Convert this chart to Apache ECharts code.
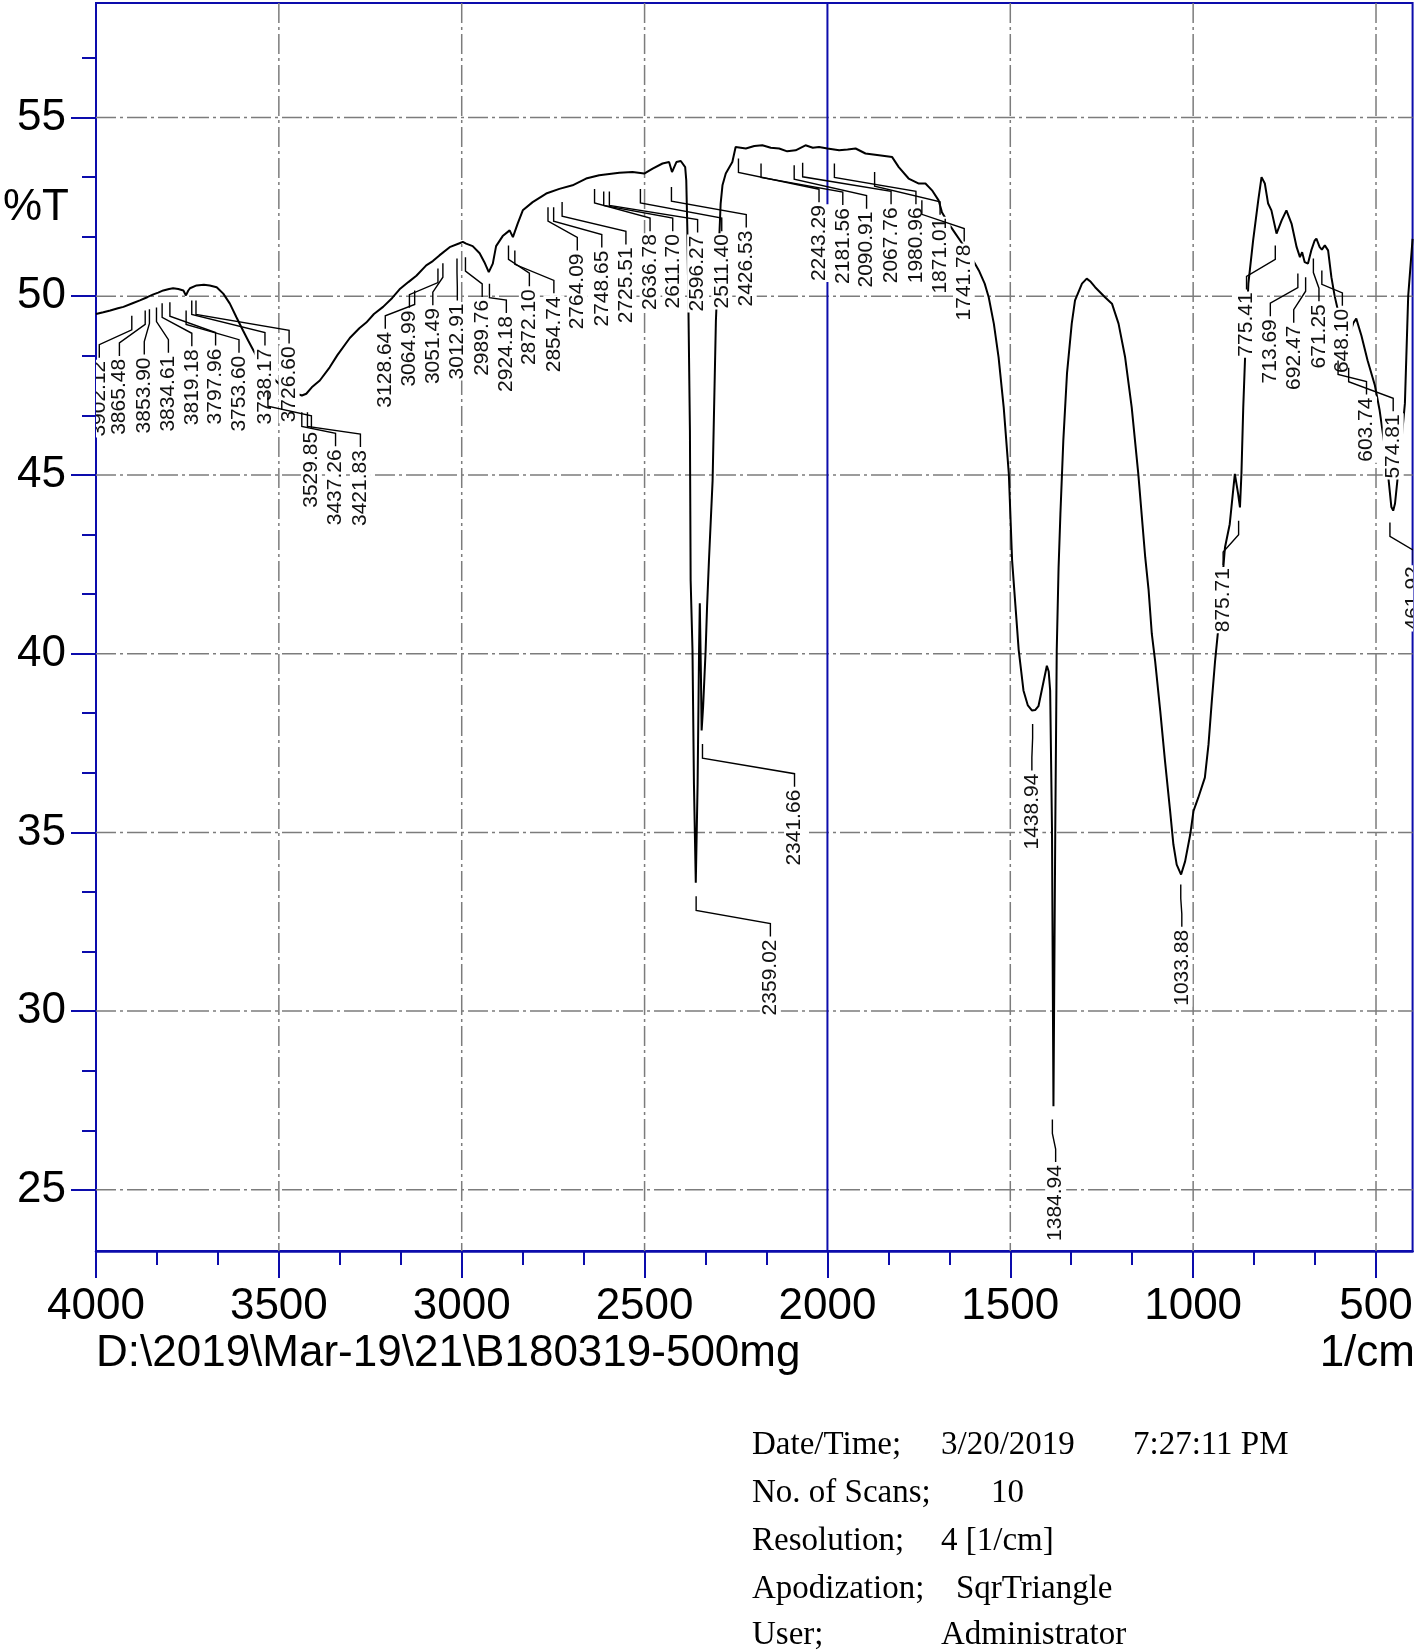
<!DOCTYPE html>
<html>
<head>
<meta charset="utf-8">
<script src="https://cdn.jsdelivr.net/npm/echarts@6/dist/echarts.min.js"></script>
<style>
html,body{margin:0;padding:0;background:#fff;}
#chart{width:1418px;height:1652px;}
</style>
</head>
<body>
<div id="chart"></div>
<script>
// ---------------- DATA ----------------
const wavenumber = [
4000,3980,3961,3940,3925,3900,3880,3860,3843,3830,
3816,3800,3789,3775,3761,3754,3748,3743,3725,3705,
3689,3670,3652,3634,3616,3598,3584,3560,3530,3500,
3470,3445,3437,3425,3410,3388,3361,3340,3306,3280,
3261,3240,3215,3190,3170,3145,3124,3097,3079,3061,
3033,3006,2997,2988,2970,2951,2938,2926,2915,2906,
2888,2869,2860,2847,2833,2806,2769,2733,2697,2660,
2624,2569,2533,2501,2478,2451,2433,2425,2413,2401,
2389,2386,2383,2380,2376,2374,2369,2365,2360,2355,
2351,2349,2346,2344,2340,2333,2329,2324,2314,2305,
2292,2287,2278,2260,2251,2223,2200,2178,2155,2132,
2110,2087,2060,2040,2023,2000,1968,1945,1923,1896,
1859,1823,1805,1778,1750,1732,1714,1696,1687,1670,
1650,1630,1610,1586,1570,1559,1545,1532,1518,1504,
1495,1486,1477,1464,1452,1441,1432,1423,1409,1400,
1395,1391,1386,1382,1377,1373,1368,1363,1355,1345,
1332,1323,1304,1291,1280,1268,1241,1222,1204,1186,
1168,1150,1131,1122,1113,1104,1090,1077,1063,1054,
1045,1033,1022,1008,999,986,968,958,949,940,
931,913,900,886,877,872,868,863,858,849,
836,822,813,804,795,786,772,758,745,731,
717,708,702,695,686,677,668,663,654,648,
640,631,622,613,604,590,575,562,554,540,
523,503,490,475,466,458,453,448,440,430,
421,412,400
];
const transmittance = [
49.50,49.55,49.60,49.66,49.70,49.80,49.88,49.97,50.05,50.10,
50.16,50.20,50.22,50.20,50.16,50.02,50.15,50.22,50.30,50.32,
50.30,50.25,50.07,49.79,49.41,49.04,48.76,48.30,47.85,47.55,
47.35,47.25,47.22,47.27,47.45,47.64,48.01,48.35,48.83,49.10,
49.26,49.50,49.70,49.95,50.19,50.40,50.57,50.86,50.98,51.14,
51.37,51.48,51.52,51.47,51.40,51.20,50.95,50.67,50.91,51.40,
51.68,51.84,51.65,52.03,52.40,52.63,52.87,53.00,53.10,53.29,
53.38,53.45,53.47,53.43,53.57,53.71,53.75,53.47,53.75,53.78,
53.61,53.24,51.84,49.60,46.24,42.04,40.10,36.35,33.59,36.35,
40.10,41.41,39.47,37.85,38.50,40.10,41.35,42.60,44.84,49.30,
52.59,53.10,53.43,53.75,54.17,54.13,54.20,54.22,54.15,54.13,
54.05,54.08,54.22,54.15,54.17,54.13,54.08,54.10,54.13,53.99,
53.94,53.89,53.61,53.29,53.15,53.15,52.96,52.68,52.35,52.05,
51.75,51.45,51.15,50.72,50.35,49.97,49.23,48.29,46.89,45.03,
42.60,41.35,40.10,38.97,38.55,38.41,38.42,38.53,39.22,39.66,
39.50,38.97,35.10,27.34,35.10,40.10,42.40,43.90,45.96,47.83,
49.23,49.88,50.35,50.49,50.40,50.25,49.97,49.79,49.23,48.29,
46.89,45.03,42.69,41.80,40.55,39.80,38.40,37.00,35.60,34.66,
34.10,33.82,34.19,34.94,35.60,35.97,36.53,37.46,38.67,39.80,
40.73,42.97,43.62,45.03,44.47,44.09,45.03,46.89,48.29,50.35,
51.56,52.68,53.33,53.15,52.59,52.40,51.75,52.12,52.40,52.03,
51.37,51.09,51.23,50.95,50.91,51.28,51.55,51.61,51.37,51.30,
51.42,51.28,50.53,50.00,49.60,49.10,48.85,49.25,49.37,48.90,
48.20,47.50,46.80,45.70,44.90,44.10,44.00,44.20,45.00,46.00,
47.00,50.00,51.60
];

// peak labels: text, %T where the leader starts, and where the label text sits (wavenumber, %T of its top end)
const peakText = [
'3902.12','3865.48','3853.90','3834.61','3819.18','3797.96','3753.60','3738.17','3726.60',
'3529.85','3437.26','3421.83',
'3128.64','3064.99','3051.49','3012.91','2989.76','2924.18',
'2872.10','2854.74','2764.09','2748.65','2725.51','2636.78','2611.70','2596.27','2511.40','2426.53',
'2243.29','2181.56','2090.91','2067.76','1980.96','1871.01','1741.78',
'2359.02','2341.66','1438.94','1384.94','1033.88','875.71',
'775.41','713.69','692.47','671.25','648.10','603.74','574.81','461.92'
];
const peakLeaderTop = [
49.45,49.60,49.63,49.68,49.80,49.83,49.60,49.88,49.88,
47.31,46.75,46.75,
50.16,50.77,50.92,51.05,51.09,50.35,
51.42,51.28,52.49,52.49,52.63,53.00,52.93,52.93,53.00,53.05,
53.85,53.71,53.66,53.73,53.71,53.47,52.68,
33.21,37.47,38.03,26.97,33.54,43.72,
51.42,50.63,50.53,51.05,50.72,48.20,48.00,43.67
];
const labelWavenumber = [
3991,3936,3868,3802,3738,3673,3609,3538,3472,
3411,3345,3277,
3209,3143,3079,3012,2944,2878,
2815,2748,2684,2617,2551,2485,2423,2355,2289,2222,
2023,1958,1893,1826,1758,1692,1626,
2156,2090,1441,1376,1031,918,
854,789,725,656,592,526,453,398
];
const labelTopT = [
48.25,48.30,48.34,48.39,48.57,48.59,48.39,48.59,48.65,
46.26,45.77,45.75,
49.06,49.65,49.72,49.85,49.95,49.50,
50.25,50.05,51.25,51.33,51.42,51.79,51.79,51.75,51.79,51.89,
52.60,52.52,52.42,52.54,52.54,52.25,51.50,
32.06,36.25,36.70,25.75,32.33,42.45,
50.16,49.41,49.23,49.83,49.70,47.22,46.75,42.50
];

// axis ticks
const xMajorTicks = [4000,3500,3000,2500,2000,1500,1000,500];
const yMajorTicks = [25,30,35,40,45,50,55];
const xGridLines = [3500,3000,2500,1500,1000,500];
const cursorLine = [2000];

const infoLines = [
  ['Date/Time;', '3/20/2019', '7:27:11 PM'],
  ['No. of Scans;', '10'],
  ['Resolution;', '4 [1/cm]'],
  ['Apodization;', 'SqrTriangle'],
  ['User;', 'Administrator']
];

// ---------------- CHART ----------------
const X_MIN = 400, X_MAX = 4000, Y_MIN = 23.29, Y_MAX = 58.2;
const BLUE = '#0c0cac';
const FONT = '"Liberation Sans", Arial, sans-serif';
const SERIF = '"Liberation Serif", "Times New Roman", serif';

const xMinorTicks = [];
xMajorTicks.slice(0, -1).forEach(m => { xMinorTicks.push(m - 500/3, m - 1000/3); });
const yMinorTicks = [];
yMajorTicks.forEach(m => { [m + 5/3, m + 10/3].forEach(v => { if (v < Y_MAX) yMinorTicks.push(v); }); });

const spectrum = wavenumber.map((w, i) => [w, transmittance[i]]);
const labelData = peakText.map((t, i) => [labelWavenumber[i], labelTopT[i], parseFloat(t), peakLeaderTop[i], i]);

const chart = echarts.init(document.getElementById('chart'), null, {renderer: 'canvas'});

const gridStyle = {stroke: '#7c7c7c', lineWidth: 1.5, lineDash: [20, 4, 3, 4]};
const plain = v => String(Math.round(v));

const option = {
  animation: false,
  backgroundColor: '#fff',
  grid: {left: 96, right: 3, top: 3, bottom: 401, show: true, borderColor: BLUE, borderWidth: 2, containLabel: false},
  xAxis: [
    {
      type: 'value', min: X_MIN, max: X_MAX, inverse: true, position: 'bottom',
      axisLine: {show: true, onZero: false, lineStyle: {color: BLUE, width: 2.5}},
      axisTick: {show: true, inside: false, length: 27, customValues: xMajorTicks, lineStyle: {color: BLUE, width: 2}},
      axisLabel: {show: true, customValues: xMajorTicks, formatter: plain, fontSize: 44, fontFamily: FONT, color: '#000', margin: 34},
      splitLine: {show: false}
    },
    {
      type: 'value', min: X_MIN, max: X_MAX, inverse: true, position: 'bottom',
      axisLine: {show: false, onZero: false},
      axisTick: {show: true, inside: false, length: 14, customValues: xMinorTicks, lineStyle: {color: BLUE, width: 2}},
      axisLabel: {show: false},
      splitLine: {show: false}
    }
  ],
  yAxis: [
    {
      type: 'value', min: Y_MIN, max: Y_MAX, position: 'left',
      axisLine: {show: true, onZero: false, lineStyle: {color: BLUE, width: 2}},
      axisTick: {show: true, inside: false, length: 25, customValues: yMajorTicks, lineStyle: {color: BLUE, width: 2}},
      axisLabel: {show: true, customValues: yMajorTicks, formatter: plain, fontSize: 44, fontFamily: FONT, color: '#000', margin: 30},
      splitLine: {show: false}
    },
    {
      type: 'value', min: Y_MIN, max: Y_MAX, position: 'left',
      axisLine: {show: false, onZero: false},
      axisTick: {show: true, inside: false, length: 14, customValues: yMinorTicks, lineStyle: {color: BLUE, width: 2}},
      axisLabel: {show: false},
      splitLine: {show: false}
    }
  ],
  series: [
    {
      name: 'hgrid', type: 'custom', z: 1, silent: true, clip: true,
      data: yMajorTicks.map(v => [X_MAX, v]),
      renderItem: (params, api) => {
        const a = api.coord([X_MAX, api.value(1)]);
        const b = api.coord([X_MIN, api.value(1)]);
        return {type: 'line', shape: {x1: a[0], y1: a[1], x2: b[0], y2: b[1]}, style: gridStyle};
      }
    },
    {
      name: 'vgrid', type: 'custom', z: 1, silent: true, clip: true,
      data: xGridLines.map(v => [v, Y_MIN]),
      renderItem: (params, api) => {
        const a = api.coord([api.value(0), Y_MAX]);
        const b = api.coord([api.value(0), Y_MIN]);
        return {type: 'line', shape: {x1: a[0], y1: a[1], x2: b[0], y2: b[1]}, style: gridStyle};
      }
    },
    {
      name: 'cursor', type: 'custom', z: 2, silent: true, clip: true,
      data: cursorLine.map(v => [v, Y_MIN]),
      renderItem: (params, api) => {
        const a = api.coord([api.value(0), Y_MAX]);
        const b = api.coord([api.value(0), Y_MIN]);
        return {type: 'line', shape: {x1: a[0], y1: a[1], x2: b[0], y2: b[1]}, style: {stroke: BLUE, lineWidth: 2}};
      }
    },
    {
      name: 'spectrum', type: 'line', z: 3, data: spectrum,
      showSymbol: false, symbol: 'none', smooth: false, clip: true,
      lineStyle: {color: '#000', width: 2}
    },
    {
      name: 'peakText', type: 'custom', z: 5, silent: true, clip: true,
      data: labelData,
      renderItem: (params, api) => {
        const i = api.value(4);
        const p = api.coord([api.value(0), api.value(1)]);
        return {
          type: 'text', x: p[0], y: p[1] + 1, rotation: Math.PI / 2,
          style: {
            text: peakText[i], x: 0, y: 0, fill: '#111',
            font: '21px ' + FONT, align: 'right', verticalAlign: 'middle',
            backgroundColor: '#fff', padding: [0, 1, 0, 1]
          }
        };
      }
    },
    {
      name: 'peakLeader', type: 'custom', z: 6, silent: true, clip: true,
      data: labelData,
      renderItem: (params, api) => {
        const l = api.coord([api.value(0), api.value(1)]);
        const p = api.coord([api.value(2), api.value(3)]);
        const pts = [[p[0], p[1]], [p[0], p[1] + 14], [l[0], l[1] - 14], [l[0], l[1] - 1]];
        return {type: 'polyline', shape: {points: pts}, style: {stroke: '#000', lineWidth: 1.4, fill: null}};
      }
    }
  ],
  graphic: (function () {
    const els = [
      {type: 'text', x: 3, y: 208, style: {text: '%T', font: '44px ' + FONT, fill: '#000', verticalAlign: 'middle', textVerticalAlign: 'middle'}},
      {type: 'text', x: 96, y: 1354, style: {text: 'D:\\2019\\Mar-19\\21\\B180319-500mg', font: '44px ' + FONT, fill: '#000', verticalAlign: 'middle', textVerticalAlign: 'middle'}},
      {type: 'text', x: 1415, y: 1354, style: {text: '1/cm', font: '44px ' + FONT, fill: '#000', align: 'right', textAlign: 'right', verticalAlign: 'middle', textVerticalAlign: 'middle'}}
    ];
    const rowY = [1445, 1493, 1541, 1589, 1635];
    const colX = [[752, 941, 1133], [752, 991], [752, 941], [752, 956], [752, 941]];
    infoLines.forEach((row, r) => {
      row.forEach((txt, c) => {
        els.push({type: 'text', x: colX[r][c], y: rowY[r], style: {text: txt, font: '33px ' + SERIF, fill: '#000', verticalAlign: 'middle', textVerticalAlign: 'middle'}});
      });
    });
    return els;
  })()
};

chart.setOption(option);
</script>
</body>
</html>
